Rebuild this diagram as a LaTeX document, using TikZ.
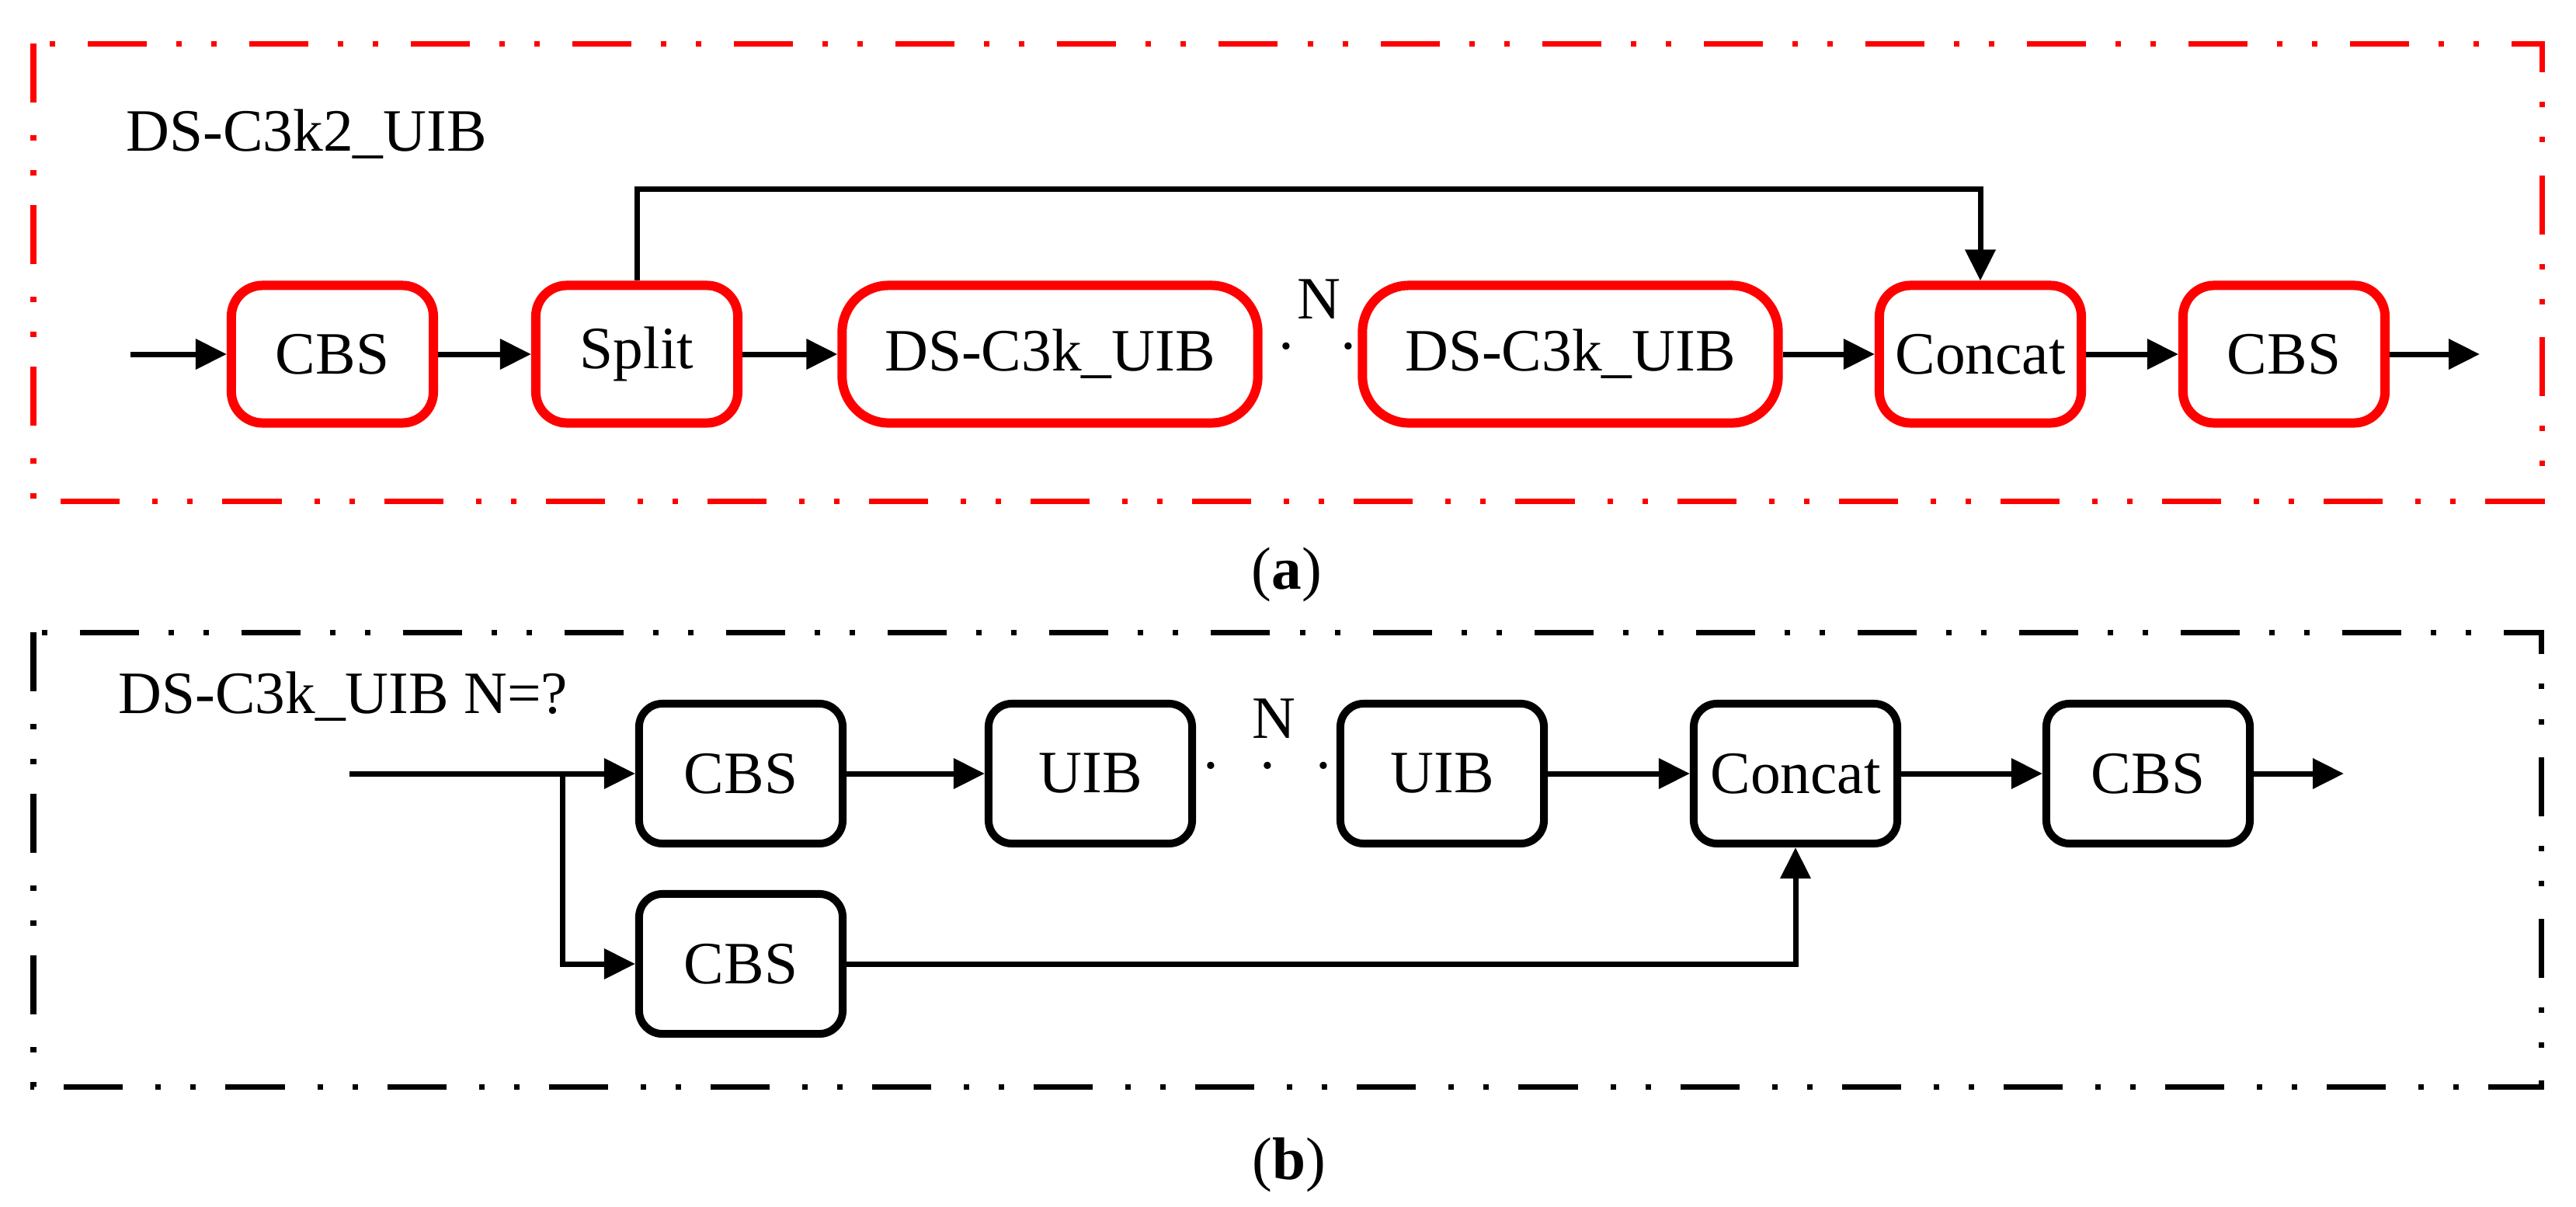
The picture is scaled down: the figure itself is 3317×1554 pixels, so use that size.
\documentclass[tikz,border=0pt]{standalone}
\usepackage{fontspec}
\setmainfont{Liberation Serif}
\usetikzlibrary{arrows.meta}
\tikzstyle{every node}=[font=\fontsize{22}{26}\selectfont]
\tikzstyle{redblock}=[rectangle,
                      rounded corners=.4cm,
                      line width=.12cm,
                      draw=red,
                      minimum width=2.6cm,
                      minimum height=1.77cm]
\tikzstyle{wideblock}=[redblock,
                       rounded corners=.6cm,
                       minimum width=5.35cm]
\tikzstyle{blackblock}=[rectangle,
                        rounded corners=.3cm,
                        line width=.1cm,
                        draw=black,
                        minimum width=2.62cm,
                        minimum height=1.8cm]
\tikzstyle{flow}=[line width=.07cm,-{Triangle[length=.4cm,width=.38cm]}]
\tikzstyle{frame}=[line width=.07cm,
                   dash pattern=on .76cm off .42cm on .07cm off .38cm on .07cm off .38cm]
\tikzstyle{dots}=[inner sep=0pt]
\begin{document}
\begin{tikzpicture}[x=.01cm,y=-.01cm]
\useasboundingbox (0,0) rectangle (3317,1554);
% (a)
\draw[frame,red] (43,56) rectangle (3273,645);
\node (title_a) [anchor=base west] at (150,194) {DS-C3k2\_UIB};
\coordinate (in_a) at (168,456);
\node (CBS_1)    [redblock]  at (428,456)  {CBS};
\node (Split)    [redblock]  at (820,456)  {Split};
\node (DS_1)     [wideblock] at (1352,456) {DS-C3k\_UIB};
\node (N_a)                  at (1698,385) {N};
\node (dots_a)   [dots]      at (1696,456) {\textperiodcentered\hspace{.7em}\textperiodcentered};
\node (DS_2)     [wideblock] at (2022,456) {DS-C3k\_UIB};
\node (Concat_a) [redblock]  at (2550,456) {Concat};
\node (CBS_2)    [redblock]  at (2941,456) {CBS};
\coordinate (out_a) at (3193,456);
\node (label_a) at (1657,740) {(\textbf{a})};
\draw[flow] (in_a) -- (CBS_1);
\draw[flow] (CBS_1) -- (Split);
\draw[flow] (Split) -- (DS_1);
\draw[flow] (DS_2) -- (Concat_a);
\draw[flow] (Concat_a) -- (CBS_2);
\draw[flow] (CBS_2) -- (out_a);
\draw[flow] (Split.north) -- ++(0,-118) -| (Concat_a.north);
% (b)
\draw[frame] (43,814) rectangle (3272,1399);
\node (title_b) [anchor=base west] at (140,918) {DS-C3k\_UIB N=?};
\coordinate (in_b) at (450,996);
\coordinate (fork) at (724,996);
\node (CBS_b1)   [blackblock] at (954,996)   {CBS};
\node (UIB_1)    [blackblock] at (1404,996)  {UIB};
\node (N_b)                   at (1640,925)  {N};
\node (dots_b)   [dots]       at (1632,996)  {\textperiodcentered\hspace{.6em}\textperiodcentered\hspace{.6em}\textperiodcentered};
\node (UIB_2)    [blackblock] at (1857,996)  {UIB};
\node (Concat_b) [blackblock] at (2312,996)  {Concat};
\node (CBS_b3)   [blackblock] at (2766,996)  {CBS};
\node (CBS_b2)   [blackblock] at (954,1241)  {CBS};
\coordinate (out_b) at (3018,996);
\node (label_b) at (1660,1500) {(\textbf{b})};
\draw[line width=.07cm] (in_b) -- (fork);
\draw[flow] (fork) -- (CBS_b1);
\draw[flow] (fork) |- (CBS_b2);
\draw[flow] (CBS_b1) -- (UIB_1);
\draw[flow] (UIB_2) -- (Concat_b);
\draw[flow] (Concat_b) -- (CBS_b3);
\draw[flow] (CBS_b3) -- (out_b);
\draw[flow] (CBS_b2) -| (Concat_b);
\end{tikzpicture}
\end{document}
